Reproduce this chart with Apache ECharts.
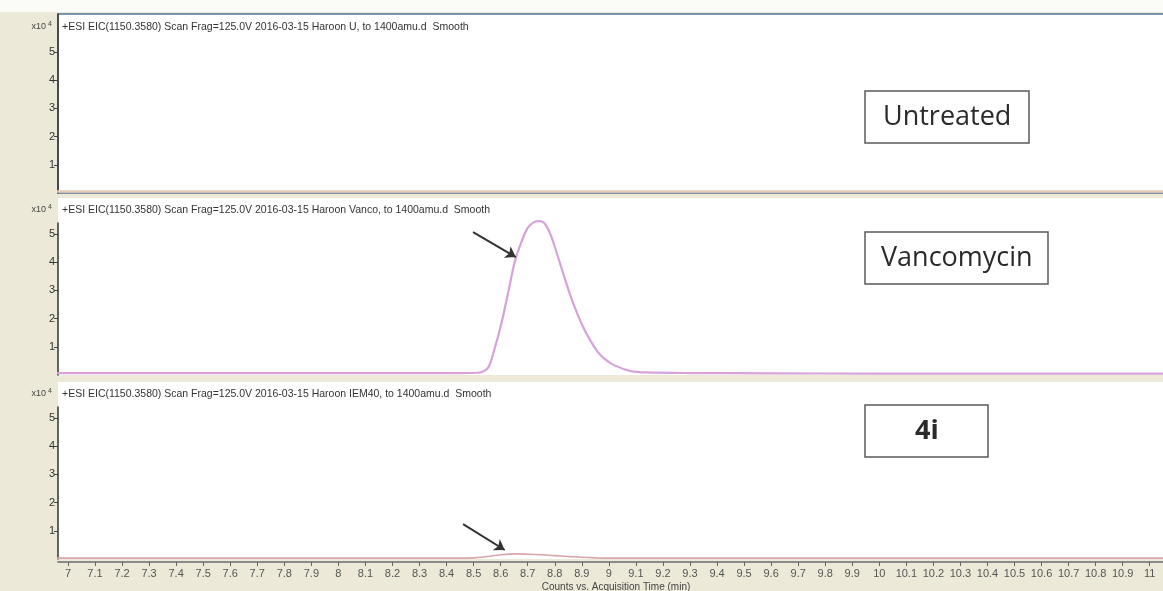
<!DOCTYPE html>
<html><head><meta charset="utf-8">
<script src="https://cdn.jsdelivr.net/npm/echarts@6/dist/echarts.min.js"></script>
<style>html,body{margin:0;padding:0;background:#ECE9D8;}#c{width:1163px;height:591px;}</style>
</head><body><div id="c"></div>
<script>
// ---- data ----
const panelNames = ['Untreated', 'Vancomycin', '4i'];
const headers = [
  '+ESI EIC(1150.3580) Scan Frag=125.0V 2016-03-15 Haroon U, to 1400amu.d  Smooth',
  '+ESI EIC(1150.3580) Scan Frag=125.0V 2016-03-15 Haroon Vanco, to 1400amu.d  Smooth',
  '+ESI EIC(1150.3580) Scan Frag=125.0V 2016-03-15 Haroon IEM40, to 1400amu.d  Smooth'
];
const xTicks = [7, 7.1, 7.2, 7.3, 7.4, 7.5, 7.6, 7.7, 7.8, 7.9, 8, 8.1, 8.2, 8.3, 8.4, 8.5, 8.6, 8.7, 8.8, 8.9,
  9, 9.1, 9.2, 9.3, 9.4, 9.5, 9.6, 9.7, 9.8, 9.9, 10, 10.1, 10.2, 10.3, 10.4, 10.5, 10.6, 10.7, 10.8, 10.9, 11];
const yTicks = [1, 2, 3, 4, 5];
const xTitle = 'Counts vs. Acquisition Time (min)';
const yScaleLabel = 'x10';
const yScaleExp = '4';

const untreatedTime   = [6.96, 7.5, 8.0, 8.5, 9.0, 9.5, 10.0, 10.5, 11.05];
const untreatedCounts = [0.05, 0.05, 0.05, 0.05, 0.05, 0.05, 0.05, 0.05, 0.05];

const vancoTime   = [6.96, 7.5, 8.0, 8.3, 8.45, 8.516, 8.553, 8.578, 8.602, 8.627, 8.651, 8.676, 8.700, 8.725, 8.743,
  8.762, 8.786, 8.811, 8.835, 8.860, 8.884, 8.909, 8.933, 8.958, 8.982, 9.019, 9.081, 9.142, 9.3, 9.6, 10.0, 10.5, 11.05];
const vancoCounts = [0.07, 0.07, 0.07, 0.07, 0.07, 0.08, 0.25, 0.95, 1.8, 2.89, 3.97, 4.7, 5.22, 5.43, 5.46,
  5.38, 4.94, 4.21, 3.49, 2.76, 2.16, 1.62, 1.2, 0.83, 0.59, 0.35, 0.14, 0.09, 0.07, 0.06, 0.05, 0.05, 0.05];

const iemTime   = [6.96, 8.0, 8.45, 8.50, 8.55, 8.60, 8.65, 8.70, 8.75, 8.80, 8.85, 8.90, 8.95, 9.0, 9.5, 10.0, 11.05];
const iemCounts = [0.03, 0.03, 0.03, 0.04, 0.09, 0.15, 0.18, 0.17, 0.15, 0.12, 0.09, 0.06, 0.04, 0.03, 0.03, 0.03, 0.03];

const vancoArrow = [[8.498, 5.07], [8.656, 4.18]];
const iemArrow   = [[8.461, 1.24], [8.615, 0.32]];

// ---- layout ----
const X_MIN = 6.9632, X_MAX = 11.049;
const PLOT_LEFT = 58, PLOT_WIDTH = 1110;
const grids = [
  {left: PLOT_LEFT, top: 14,  width: PLOT_WIDTH, height: 179},
  {left: PLOT_LEFT, top: 223, width: PLOT_WIDTH, height: 152},
  {left: PLOT_LEFT, top: 407, width: PLOT_WIDTH, height: 152}
];
const yMaxes = [179 / 28.2, 152 / 28.2, 152 / 28.2];
const panelBg = [{y: 14, h: 179}, {y: 198, h: 177}, {y: 382, h: 177}];
const headerY = [27, 210, 394];
const boxes = [
  {left: 865, top: 91,  pad: [8, 18], bold: false},
  {left: 865, top: 232, pad: [8, 16], bold: false},
  {left: 865, top: 405, pad: [8, 50], bold: true}
];

const FONT = 'Liberation Sans, Arial, sans-serif';
const chart = echarts.init(document.getElementById('c'), null, {renderer: 'canvas'});

const xAxes = grids.map((g, i) => ({
  type: 'value', gridIndex: i, min: X_MIN, max: X_MAX,
  show: i === 2,
  splitLine: {show: false},
  offset: 3,
  axisLine: {show: true, onZero: false, lineStyle: {color: '#8a8a8a', width: 2}},
  axisTick: {show: true, inside: false, length: 4, customValues: xTicks, lineStyle: {color: '#666'}},
  axisLabel: {show: true, customValues: xTicks, fontSize: 11, color: '#555', fontFamily: FONT, margin: 6}
}));
const yAxes = grids.map((g, i) => ({
  type: 'value', gridIndex: i, min: 0, max: yMaxes[i],
  splitLine: {show: false},
  axisLine: {show: true, onZero: false, lineStyle: {color: '#333', width: 1.5}},
  axisTick: {show: true, inside: false, length: 4, customValues: yTicks, lineStyle: {color: '#444'}},
  axisLabel: {show: true, customValues: yTicks, fontSize: 11, color: '#333', fontFamily: FONT, margin: 3}
}));

const arrowLine = (pts) => ({
  silent: true, symbol: ['none', 'arrow'], symbolSize: 10, animation: false,
  lineStyle: {color: '#333', width: 2, type: 'solid'},
  label: {show: false}, emphasis: {disabled: true},
  data: [[{coord: pts[0]}, {coord: pts[1]}]]
});

const zip = (a, b) => a.map((v, i) => [v, b[i]]);

const series = [
  {type: 'line', name: panelNames[0], xAxisIndex: 0, yAxisIndex: 0, data: zip(untreatedTime, untreatedCounts),
   showSymbol: false, smooth: 0.3, lineStyle: {color: '#E6CBB8', width: 2.5}},
  {type: 'line', name: panelNames[1], xAxisIndex: 1, yAxisIndex: 1, data: zip(vancoTime, vancoCounts),
   showSymbol: false, smooth: 0.3, clip: false, lineStyle: {color: '#D6A2DA', width: 2.2}, markLine: arrowLine(vancoArrow)},
  {type: 'line', name: panelNames[2], xAxisIndex: 2, yAxisIndex: 2, data: zip(iemTime, iemCounts),
   showSymbol: false, smooth: 0.4, lineStyle: {color: '#D8A3AE', width: 1.6}, markLine: arrowLine(iemArrow)}
];

const titles = panelNames.map((n, i) => ({
  text: n, left: boxes[i].left, top: boxes[i].top, padding: boxes[i].pad,
  borderColor: '#5a5a5a', borderWidth: 1.5, backgroundColor: '#fff',
  textStyle: {fontFamily: 'Open Sans, Noto Sans, sans-serif', fontSize: 27, lineHeight: 36,
    fontWeight: boxes[i].bold ? 'bold' : 'normal', color: '#2a2a2a'}
}));

const graphic = [
  {type: 'rect', z: -10, shape: {x: 0, y: 0, width: 1163, height: 12}, style: {fill: '#fbfbf8'}},
  ...panelBg.map((p, i) => ({
    type: 'rect', z: -5,
    shape: {x: PLOT_LEFT, y: p.y, width: PLOT_WIDTH, height: p.h},
    style: {fill: '#ffffff', stroke: i === 0 ? '#56739a' : null, lineWidth: i === 0 ? 1.5 : 0}
  })),
  ...headers.map((h, i) => ({
    type: 'text', z: 10, x: 62, y: headerY[i],
    style: {text: h, fontSize: 10.5, fontFamily: FONT, fill: '#333', verticalAlign: 'middle'}
  })),
  ...headerY.map((y) => ({
    type: 'text', z: 10, x: 46, y: y,
    style: {text: yScaleLabel, fontSize: 9, fontFamily: FONT, fill: '#444', align: 'right', verticalAlign: 'middle'}
  })),
  ...headerY.map((y) => ({
    type: 'text', z: 10, x: 48, y: y - 3,
    style: {text: yScaleExp, fontSize: 7, fontFamily: FONT, fill: '#444', align: 'left', verticalAlign: 'middle'}
  })),
  {type: 'text', z: 10, x: 616, y: 587,
   style: {text: xTitle, fontSize: 10, fontFamily: FONT, fill: '#444', align: 'center', verticalAlign: 'middle'}}
];

chart.setOption({
  animation: false,
  backgroundColor: '#ECE9D8',
  title: titles,
  grid: grids,
  xAxis: xAxes,
  yAxis: yAxes,
  series: series,
  graphic: graphic
});
</script></body></html>
